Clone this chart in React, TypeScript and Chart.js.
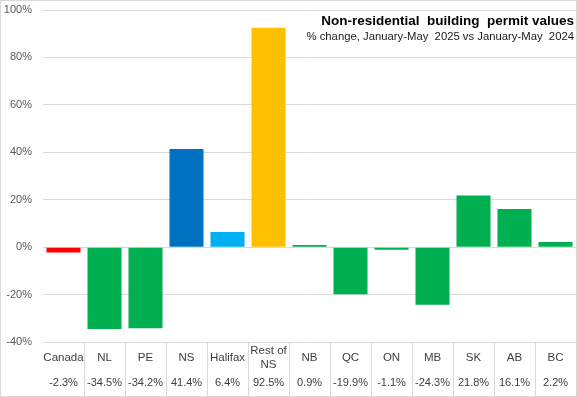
import React, { useEffect, useRef } from "react";
import { Chart, registerables } from "chart.js";

Chart.register(...registerables);

const categories = ["Canada", "NL", "PE", "NS", "Halifax", "Rest of NS", "NB", "QC", "ON", "MB", "SK", "AB", "BC"];
const categoryLines = [["Canada"], ["NL"], ["PE"], ["NS"], ["Halifax"], ["Rest of", "NS"], ["NB"], ["QC"], ["ON"], ["MB"], ["SK"], ["AB"], ["BC"]];
const values = [-2.3, -34.5, -34.2, 41.4, 6.4, 92.5, 0.9, -19.9, -1.1, -24.3, 21.8, 16.1, 2.2];
const valueLabels = ["-2.3%", "-34.5%", "-34.2%", "41.4%", "6.4%", "92.5%", "0.9%", "-19.9%", "-1.1%", "-24.3%", "21.8%", "16.1%", "2.2%"];
const barColors = ["#FF0000", "#00B050", "#00B050", "#0070C0", "#00B0F0", "#FFC000", "#00B050", "#00B050", "#00B050", "#00B050", "#00B050", "#00B050", "#00B050"];
const titleText = "Non-residential  building  permit values";
const subtitleText = "% change, January-May  2025 vs January-May  2024";
const yMin = -40;
const yMax = 100;
const yStep = 20;

const W = 577;
const H = 397;
const GRID = "#d9d9d9";

const tablePlugin = {
  id: "tablePlugin",
  afterDraw(chart: any) {
    const ctx = chart.ctx as CanvasRenderingContext2D;
    const area = chart.chartArea;
    const x = chart.scales.x;
    ctx.save();
    ctx.strokeStyle = GRID;
    ctx.lineWidth = 1;
    ctx.strokeRect(0.5, 0.5, W - 1, H - 1);
    const top = area.bottom;
    const bottom = H - 1;
    ctx.beginPath();
    for (let i = 1; i < categories.length; i++) {
      const px = Math.round((x.getPixelForValue(i - 1) + x.getPixelForValue(i)) / 2) + 0.5;
      ctx.moveTo(px, top);
      ctx.lineTo(px, bottom);
    }
    ctx.stroke();
    ctx.textAlign = "center";
    ctx.textBaseline = "middle";
    ctx.fillStyle = "#404040";
    categoryLines.forEach((lines, i) => {
      const px = x.getPixelForValue(i);
      ctx.font = "11.5px 'Liberation Sans', Arial, sans-serif";
      if (lines.length === 1) {
        ctx.fillText(lines[0], px, area.bottom + 16);
      } else {
        ctx.fillText(lines[0], px, area.bottom + 9);
        ctx.fillText(lines[1], px, area.bottom + 23);
      }
      ctx.font = "11px 'Liberation Sans', Arial, sans-serif";
      ctx.fillText(valueLabels[i], px, area.bottom + 41);
    });
    ctx.textAlign = "right";
    ctx.textBaseline = "alphabetic";
    ctx.fillStyle = "#000000";
    ctx.font = "bold 13.5px 'Liberation Sans', Arial, sans-serif";
    ctx.fillText(titleText, W - 3, 25);
    ctx.fillStyle = "#1a1a1a";
    ctx.font = "11.3px 'Liberation Sans', Arial, sans-serif";
    ctx.fillText(subtitleText, W - 3, 40);
    ctx.restore();
  },
};

export default function App() {
  const ref = useRef<HTMLCanvasElement>(null);
  useEffect(() => {
    document.body.style.margin = "0";
    const chart = new Chart(ref.current!, {
      type: "bar",
      data: {
        labels: categories,
        datasets: [
          {
            data: values,
            backgroundColor: barColors,
            borderWidth: 0,
            categoryPercentage: 1,
            barPercentage: 0.83,
          },
        ],
      },
      options: {
        animation: false,
        responsive: false,
        devicePixelRatio: 1,
        layout: { padding: { top: 10, right: 1, bottom: H - 342, left: 0 } },
        plugins: { legend: { display: false }, tooltip: { enabled: false }, title: { display: false } },
        scales: {
          x: { display: false, offset: true },
          y: {
            min: yMin,
            max: yMax,
            afterFit(scale: any) {
              scale.width = 43;
              scale.paddingTop = 0;
              scale.paddingBottom = 0;
            },
            ticks: {
              stepSize: yStep,
              padding: 11,
              color: "#595959",
              font: { family: "'Liberation Sans', Arial, sans-serif", size: 11 },
              callback: (v: any) => v + "%",
            },
            grid: { color: GRID, drawTicks: false },
            border: { display: false },
          },
        },
      },
      plugins: [tablePlugin],
    });
    return () => chart.destroy();
  }, []);
  return (
    <div style={{ width: W, height: H }}>
      <canvas ref={ref} width={W} height={H} style={{ display: "block" }} />
    </div>
  );
}
